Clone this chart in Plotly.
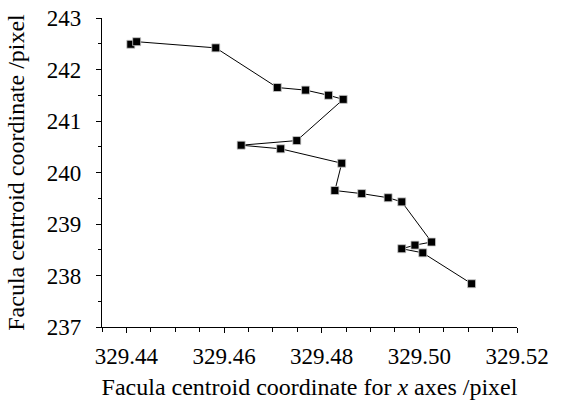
import plotly.graph_objects as go

x_vals = [329.4409, 329.4421, 329.4583, 329.4709, 329.4767, 329.4814, 329.4844,
          329.4749, 329.4635, 329.4716, 329.4841, 329.4827, 329.4882, 329.4936,
          329.4964, 329.5025, 329.4991, 329.4964, 329.5007, 329.5107]
y_vals = [242.49, 242.54, 242.42, 241.65, 241.60, 241.50, 241.42,
          240.62, 240.53, 240.46, 240.18, 239.65, 239.59, 239.51,
          239.43, 238.65, 238.59, 238.52, 238.44, 237.84]

x_ticks = [329.44, 329.46, 329.48, 329.50, 329.52]
x_tick_labels = ["329.44", "329.46", "329.48", "329.50", "329.52"]
y_ticks = [237, 238, 239, 240, 241, 242, 243]
y_tick_labels = ["237", "238", "239", "240", "241", "242", "243"]

x_title = "Facula centroid coordinate for <i>x</i> axes /pixel"
y_title = "Facula centroid coordinate /pixel"

FONT = "Liberation Serif"

fig = go.Figure()
fig.add_trace(go.Scatter(
    x=x_vals, y=y_vals, mode="lines+markers",
    line=dict(color="black", width=1),
    marker=dict(symbol="square", size=8, color="black",
                line=dict(color="#cccccc", width=0.8)),
    showlegend=False, cliponaxis=False,
))

axis_common = dict(
    showgrid=False, zeroline=False, showline=True, linecolor="black", linewidth=1.2,
    ticks="outside", ticklen=5, tickwidth=1, tickcolor="black",
    tickfont=dict(family=FONT, size=23, color="black"),
    mirror=False, automargin=False,
)

fig.update_xaxes(
    range=[329.435, 329.52], tickvals=x_ticks, ticktext=x_tick_labels,
    minor=dict(dtick=0.005, tick0=329.435, ticks="outside", ticklen=4,
               tickcolor="black", tickwidth=1),
    ticklabelstandoff=3,
    title=dict(text=x_title, font=dict(family=FONT, size=24, color="black")),
    **axis_common,
)
fig.update_yaxes(
    range=[237, 243], tickvals=y_ticks, ticktext=y_tick_labels,
    minor=dict(dtick=0.5, tick0=237, ticks="outside", ticklen=3,
               tickcolor="black", tickwidth=1),
    ticklabelstandoff=10,
    title=dict(text=y_title, font=dict(family=FONT, size=24, color="black")),
    **axis_common,
)

fig.update_layout(
    width=570, height=400,
    margin=dict(l=102, r=53, t=18, b=73),
    plot_bgcolor="white", paper_bgcolor="white",
    font=dict(family=FONT, color="black"),
)

# remove the default 8px page margin so the figure fills the window exactly
fig.write_html("out.html", config={"displayModeBar": False},
               post_script="document.body.style.margin='0';")
